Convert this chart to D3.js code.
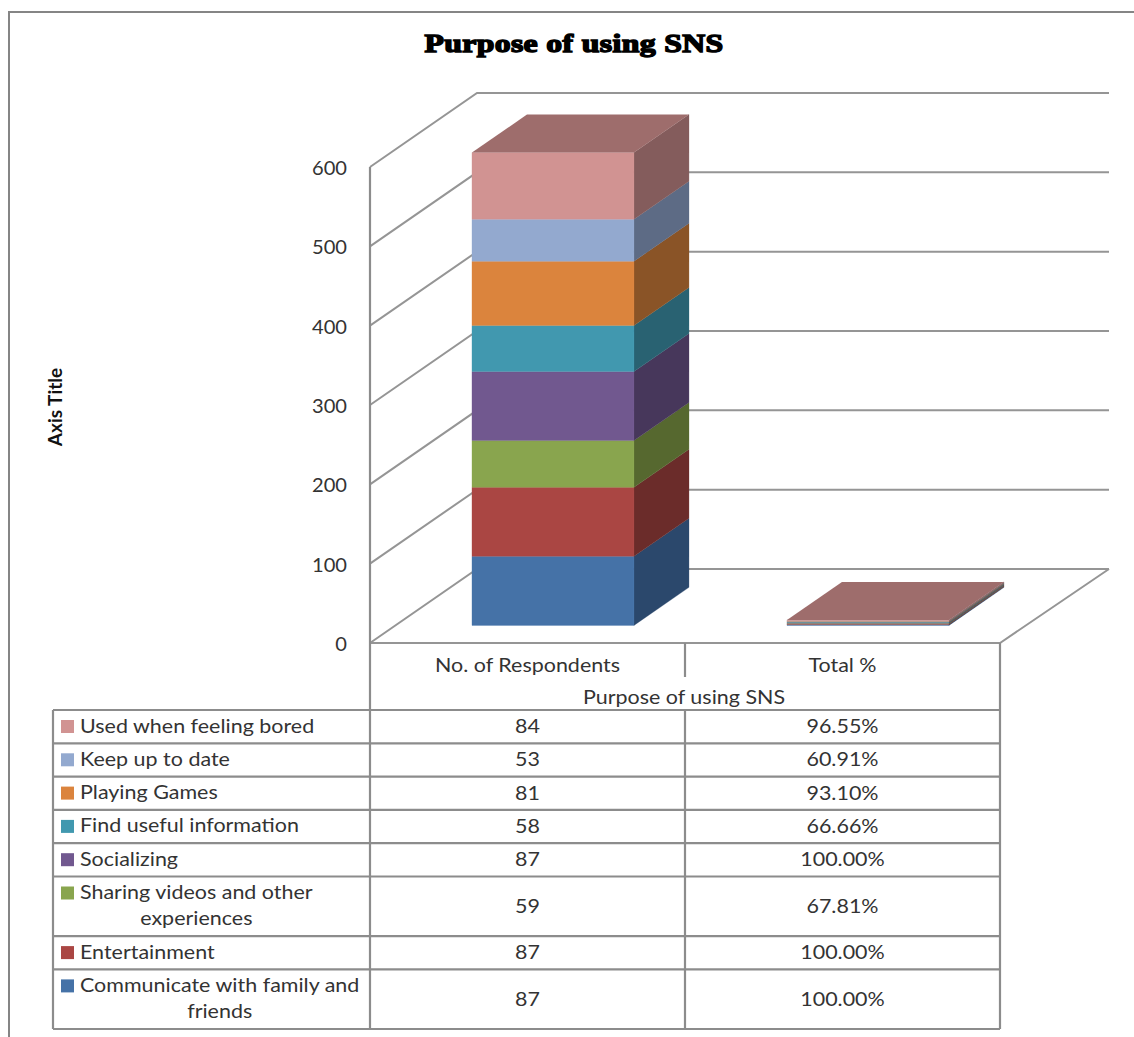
<!DOCTYPE html>
<html>
<head>
<meta charset="utf-8">
<title>Purpose of using SNS</title>
<script src="https://cdn.jsdelivr.net/npm/d3@7"></script>
<style>
  html, body { margin: 0; padding: 0; background: #fff; overflow: hidden; }
  svg { display: block; }
  text { font-family: Lato, "Open Sans", sans-serif; fill: #333; }
</style>
</head>
<body>
<svg id="chart" width="1134" height="1037"></svg>
<script>
// Stack order, bottom to top. A "\n" marks where a table label wraps.
const purposes = [
  "Communicate with family and\nfriends",
  "Entertainment",
  "Sharing videos and other\nexperiences",
  "Socializing",
  "Find useful information",
  "Playing Games",
  "Keep up to date",
  "Used when feeling bored"
];
const respondents = [87, 87, 59, 87, 58, 81, 53, 84];
const totalPercent = [100.00, 100.00, 67.81, 100.00, 66.66, 93.10, 60.91, 96.55];
const measures = ["No. of Respondents", "Total %"];
const frontColors = ["#4572a7", "#aa4643", "#89a54e", "#71588f", "#4198af", "#db843d", "#93a9cf", "#d19392"];
const sideColors  = ["#2b486c", "#6b2c2a", "#56682f", "#47375b", "#296272", "#8a5427", "#5d6b85", "#845c5c"];
const topColors   = ["#3d6490", "#943d3a", "#77903f", "#624c7c", "#388498", "#be7235", "#8093b4", "#9e6d6c"];
const yTicks = [0, 100, 200, 300, 400, 500, 600];

const chartTitle = "Purpose of using SNS";
const yTitle = "Axis Title";
const xTitle = "Purpose of using SNS";

const svg = d3.select("#chart");
const lineColor = "#959595";
const textStretch = 1.13;

// Plot geometry: the front plane, plus an oblique vector for the depth axis.
const plot = { left: 370, right: 1000, bottom: 643, top: 167 };
const depthVec = { x: 107, y: -74 };
const backWallOverhang = 2;
const barFront = 0.238, barBack = 0.752;

const y = d3.scaleLinear().domain([0, 600]).range([plot.bottom, plot.top]);
const x = d3.scaleBand().domain(measures).range([plot.left, plot.right])
  .paddingInner(0.4857).paddingOuter(0.2429);

const project = (px, value, depth) => [px + depth * depthVec.x, y(value) + depth * depthVec.y];
const polygon = pts => "M" + pts.map(p => p.join(",")).join("L") + "Z";

// Outer frame: only the top and left edges fall inside the page.
svg.append("path")
  .attr("d", "M1134,12H9V1037")
  .attr("fill", "none").attr("stroke", "#858585").attr("stroke-width", 2);

// Title
svg.append("text")
  .attr("transform", "translate(574,52) scale(1.268,1)")
  .attr("text-anchor", "middle")
  .style("font-family", "'Liberation Serif', serif")
  .style("font-weight", 700).style("font-size", "25px")
  .style("letter-spacing", "0.3px")
  .style("fill", "#000").style("stroke", "#000").style("stroke-width", 1.4)
  .text(chartTitle);

// Rotated value-axis title
svg.append("text")
  .attr("transform", "translate(62,407) rotate(-90)")
  .attr("text-anchor", "middle")
  .style("font-weight", 700).style("font-size", "19px").style("fill", "#111")
  .text(yTitle);

// Side wall and back wall gridlines
const grid = svg.append("g").attr("fill", "none").attr("stroke", lineColor).attr("stroke-width", 2);
grid.selectAll("path").data(yTicks).join("path")
  .attr("d", v => {
    const a = project(plot.left, v, 0), b = project(plot.left, v, 1), c = project(plot.right + backWallOverhang, v, 1);
    return "M" + a + "L" + b + "L" + c;
  });

// Floor edges on the near and right sides
grid.append("path").attr("class", "floor")
  .attr("d", "M" + project(plot.left, 0, 0) + "L" + project(plot.right, 0, 0) + "L" + project(plot.right + backWallOverhang, 0, 1));

// Value axis
const tickStretch = 1.06;
const yAxis = svg.append("g").attr("transform", `translate(${plot.left},0)`)
  .call(d3.axisLeft(y).tickValues(yTicks).tickSize(0).tickPadding(22));
yAxis.select(".domain").remove();
yAxis.selectAll("text")
  .attr("transform", `scale(${tickStretch},1)`)
  .attr("x", -23 / tickStretch)
  .attr("dy", "0.40em")
  .style("font-size", "19px").style("font-family", "Lato").style("fill", "#333");

// Stacked prisms, one per measure
const seriesValues = [respondents, totalPercent.map(p => p / 100)];
const bars = svg.append("g");
measures.forEach((m, mi) => {
  const x0 = x(m), x1 = x0 + x.bandwidth();
  const vals = seriesValues[mi];
  const stacked = d3.stack().keys(d3.range(vals.length))
    .value((d, k) => d[k])([vals]).map(s => s[0]);
  const g = bars.append("g");
  const segs = stacked.map((s, i) => ({ base: s[0], top: s[1], i }));
  g.selectAll("path.side").data(segs).join("path").attr("class", "side")
    .attr("d", s => polygon([
      project(x1, s.base, barFront), project(x1, s.base, barBack),
      project(x1, s.top, barBack), project(x1, s.top, barFront)]))
    .attr("fill", s => sideColors[s.i]).attr("stroke", s => sideColors[s.i]).attr("stroke-width", 0.3);
  g.selectAll("path.front").data(segs).join("path").attr("class", "front")
    .attr("d", s => polygon([
      project(x0, s.base, barFront), project(x1, s.base, barFront),
      project(x1, s.top, barFront), project(x0, s.top, barFront)]))
    .attr("fill", s => frontColors[s.i]).attr("stroke", s => frontColors[s.i]).attr("stroke-width", 0.3);
  const last = segs[segs.length - 1];
  g.append("path")
    .attr("d", polygon([
      project(x0, last.top, barFront), project(x1, last.top, barFront),
      project(x1, last.top, barBack), project(x0, last.top, barBack)]))
    .attr("fill", topColors[last.i]);
});

// Category axis labels under the floor
const xAxis = svg.append("g").attr("transform", `translate(0,${plot.bottom})`)
  .call(d3.axisBottom(x).tickSize(0).tickPadding(0));
xAxis.select(".domain").remove();
xAxis.selectAll("text")
  .attr("transform", `scale(${textStretch},1)`)
  .attr("y", 29).attr("dy", 0)
  .attr("x", 0)
  .style("font-size", "19px").style("font-family", "Lato").style("fill", "#333");

svg.append("text")
  .attr("transform", `translate(${(plot.left + plot.right) / 2 - 1},704) scale(${textStretch},1)`)
  .attr("text-anchor", "middle")
  .style("font-size", "19px")
  .text(xTitle);

// Data table with legend keys; rows run top to bottom, reversed from the stack.
const table = { left: 53, top: 710, single: 33.3, double: 59.6 };
const rows = d3.range(purposes.length).reverse().map(i => ({
  i, lines: purposes[i].split("\n"), count: respondents[i], pct: totalPercent[i]
}));
let cursor = table.top;
rows.forEach(r => {
  r.y0 = cursor;
  r.h = r.lines.length > 1 ? table.double : table.single;
  cursor += r.h;
  r.y1 = cursor;
});
const tableBottom = cursor;

const rules = svg.append("g").attr("fill", "none").attr("stroke", "#8c8c8c").attr("stroke-width", 2.2);
rules.append("line").attr("x1", table.left).attr("x2", plot.right).attr("y1", table.top).attr("y2", table.top);
rules.selectAll("line.row").data(rows).join("line").attr("class", "row")
  .attr("x1", table.left).attr("x2", plot.right)
  .attr("y1", r => r.y1).attr("y2", r => r.y1);
const midX = x(measures[1]) - (x.step() - x.bandwidth()) / 2;
[[table.left, table.top, tableBottom],
 [plot.left, y(600), tableBottom],
 [plot.right, plot.bottom, tableBottom],
 [midX, plot.bottom, 677],
 [midX, table.top, tableBottom]].forEach(([vx, a, b]) => {
  rules.append("line").attr("x1", vx).attr("x2", vx).attr("y1", a).attr("y2", b);
});

const fontSize = 19;
const textX = 80;
const rowG = svg.append("g").selectAll("g").data(rows).join("g");

rowG.append("rect")
  .attr("x", 61).attr("width", 13).attr("height", 13)
  .attr("y", r => r.y0 + 10)
  .attr("fill", r => frontColors[r.i]);

rowG.each(function (r) {
  const g = d3.select(this);
  const first = g.append("text")
    .attr("transform", `translate(${textX},${r.y0 + 22.5}) scale(${textStretch},1)`)
    .style("font-size", fontSize + "px")
    .text(r.lines[0]);
  if (r.lines[1]) {
    const w = first.node().getComputedTextLength() * textStretch;
    g.append("text")
      .attr("transform", `translate(${textX + w / 2},${r.y0 + 48.5}) scale(${textStretch},1)`)
      .attr("text-anchor", "middle")
      .style("font-size", fontSize + "px")
      .text(r.lines[1]);
  }
  const cy = (r.y0 + r.y1) / 2 + 6.5;
  const cells = [String(r.count), d3.format(".2f")(r.pct) + "%"];
  measures.forEach((m, k) => {
    g.append("text")
      .attr("transform", `translate(${x(m) + x.bandwidth() / 2},${cy}) scale(${textStretch},1)`)
      .attr("text-anchor", "middle")
      .style("font-size", fontSize + "px")
      .text(cells[k]);
  });
});
</script>
</body>
</html>
